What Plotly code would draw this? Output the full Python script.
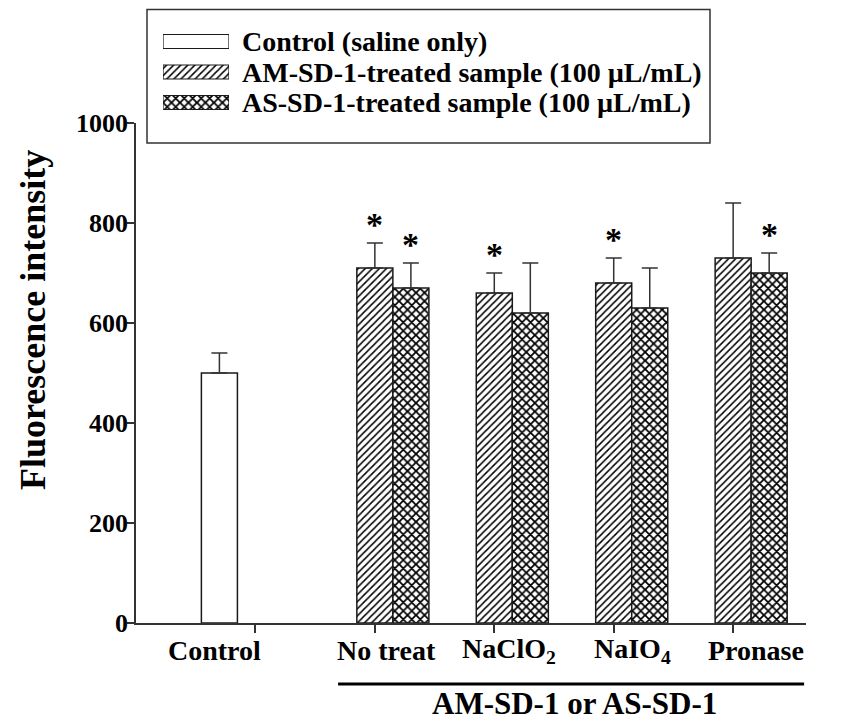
import plotly.graph_objects as go

# ---------------- data ----------------
categories = ["Control", "No treat", "NaClO2", "NaIO4", "Pronase"]
cat_labels = ["Control", "No treat", "NaClO<sub>2</sub>", "NaIO<sub>4</sub>", "Pronase"]
series_names = ["Control (saline only)",
                "AM-SD-1-treated sample (100 \u00b5L/mL)",
                "AS-SD-1-treated sample (100 \u00b5L/mL)"]
control_vals = [500, None, None, None, None]
control_err = [40, 0, 0, 0, 0]
am_vals = [None, 710, 660, 680, 730]
am_err = [0, 50, 40, 50, 110]
as_vals = [None, 670, 620, 630, 700]
as_err = [0, 50, 100, 80, 40]
am_sig = [False, True, True, True, False]
as_sig = [False, True, False, False, True]
y_ticks = [0, 200, 400, 600, 800, 1000]
y_title = "Fluorescence intensity"
x_title = "AM-SD-1 or AS-SD-1"

# ---------------- layout helpers ----------------
W, H = 846, 722
ML, MR, MT, MB = 136, 40, 5, 99
PW, PH = W - ML - MR, H - MT - MB


def px_x(x):
    return (x - ML) / PW


def px_y(y):
    return (H - MB - y) / PH


FONT = "Liberation Serif, Times New Roman, serif"
BARGAP = 0.095
slot_w = (1 - BARGAP) / 3
patterns = ["", "/", "x"]
pat_sizes = [6, 5, 6]
pat_solids = [0.2, 0.3, 0.5]
edge = "#1a1a1a"

fig = go.Figure()

series = [(control_vals, control_err), (am_vals, am_err), (as_vals, as_err)]
for k, (vals, errs) in enumerate(series):
    fig.add_trace(go.Bar(
        x=categories, y=vals, name=series_names[k], showlegend=False,
        marker=dict(color="white", line=dict(color=edge, width=1.5),
                    pattern=dict(shape=patterns[k], size=pat_sizes[k], solidity=pat_solids[k],
                                 fgcolor="black", bgcolor="white")),
        error_y=dict(type="data", symmetric=False, array=errs,
                     arrayminus=[0] * len(errs), color="#333333",
                     thickness=1.5, width=8),
    ))

# significance asterisks
for slot, vals, errs, sig in [(1, am_vals, am_err, am_sig), (2, as_vals, as_err, as_sig)]:
    for i, s in enumerate(sig):
        if s:
            fig.add_annotation(x=i + (slot - 1) * slot_w, xref="x", yref="y",
                               y=vals[i] + errs[i], yanchor="bottom", yshift=-2,
                               text="*", showarrow=False,
                               font=dict(family=FONT, size=34, color="black", weight="bold"))

# legend swatches drawn as bars on an auxiliary hidden subplot
for k in range(3):
    fig.add_trace(go.Bar(
        x=[1], y=[series_names[k]], orientation="h", xaxis="x2", yaxis="y2",
        width=0.46, showlegend=False, hoverinfo="skip",
        marker=dict(color="white", line=dict(color=edge, width=1.2),
                    pattern=dict(shape=patterns[k], size=pat_sizes[k], solidity=pat_solids[k],
                                 fgcolor="black", bgcolor="white")),
    ))

legend_rows = [41.5, 72, 102.5]
for name, ry in zip(series_names, legend_rows):
    fig.add_annotation(x=px_x(240), y=px_y(ry), xref="paper", yref="paper",
                       xanchor="left", yanchor="middle", text=name, showarrow=False,
                       font=dict(family=FONT, size=28, color="black", weight="bold"))

# legend frame
fig.add_shape(type="rect", xref="paper", yref="paper",
              x0=px_x(147), x1=px_x(710), y0=px_y(143), y1=px_y(9.5),
              line=dict(color="#333333", width=1.5), fillcolor="rgba(0,0,0,0)", layer="below")

# category labels
label_offsets = [-0.34, 0.10, 0.12, 0.16, 0.19]
for i, (lab, off) in enumerate(zip(cat_labels, label_offsets)):
    fig.add_annotation(x=i + off, y=px_y(650), xref="x", yref="paper",
                       xanchor="center", yanchor="middle", text=lab, showarrow=False,
                       font=dict(family=FONT, size=28, color="black", weight="bold"))

# group underline and bottom title
fig.add_shape(type="line", xref="x", yref="paper", x0=0.692, x1=4.594,
              y0=px_y(684), y1=px_y(684), line=dict(color="black", width=3))
fig.add_annotation(x=2.67, y=px_y(703), xref="x", yref="paper", xanchor="center",
                   yanchor="middle", text=x_title, showarrow=False,
                   font=dict(family=FONT, size=31, color="black", weight="bold"))

# y title
fig.add_annotation(x=px_x(33), y=px_y(320), xref="paper", yref="paper", textangle=-90,
                   xanchor="center", yanchor="middle", text=y_title, showarrow=False,
                   font=dict(family=FONT, size=36, color="black", weight="bold"))

fig.update_layout(
    template="none",
    width=W, height=H, margin=dict(l=ML, r=MR, t=MT, b=MB, autoexpand=False),
    paper_bgcolor="white", plot_bgcolor="white", showlegend=False,
    barmode="group", bargap=BARGAP, bargroupgap=0,
    font=dict(family=FONT, size=28, color="black", weight="bold"),
    xaxis=dict(type="category", range=[-1.0, 4.61], showgrid=False, zeroline=False,
               showline=True, linecolor="#333333", linewidth=1.5, automargin=False,
               ticks="outside", ticklen=8, tickwidth=1.5, tickcolor="#333333",
               showticklabels=False, domain=[0, 1], anchor="y"),
    yaxis=dict(range=[0, 1000], tickvals=y_ticks, showgrid=False, zeroline=False,
               showline=True, linecolor="#333333", linewidth=1.5, automargin=False,
               ticks="outside", ticklen=7, tickwidth=1.5, tickcolor="#333333",
               ticklabelstandoff=-6,
               tickfont=dict(family=FONT, size=26, color="black", weight="bold"),
               domain=[0, px_y(123)], anchor="x"),
    xaxis2=dict(domain=[px_x(163), px_x(229)], range=[0, 1], visible=False, anchor="y2",
                fixedrange=True, automargin=False),
    yaxis2=dict(domain=[px_y(117.75), px_y(26.25)], range=[2.5, -0.5], visible=False,
                anchor="x2", type="category", fixedrange=True, automargin=False),
)

fig.write_html("out.html")
